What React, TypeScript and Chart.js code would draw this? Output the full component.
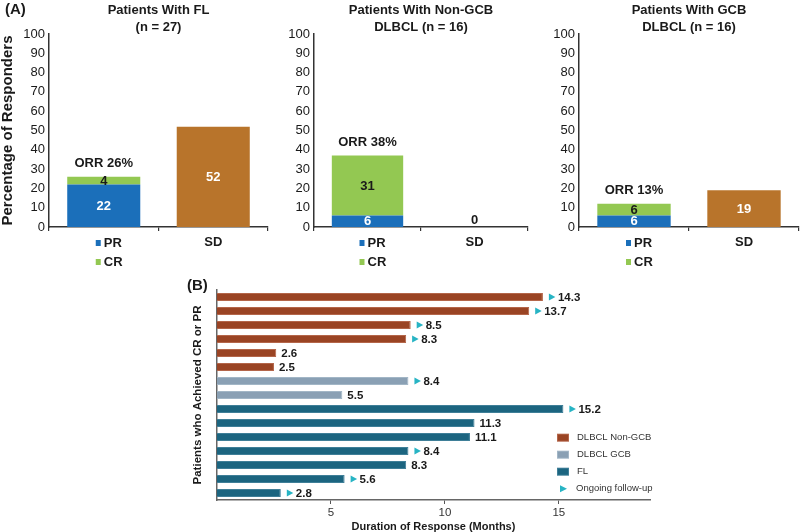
import React, { useEffect, useRef } from "react";
import { Chart, registerables } from "chart.js";

Chart.register(...registerables);

const FONT = "'Liberation Sans', Arial, Helvetica, sans-serif";
Chart.defaults.font.family = FONT;

// ---------------- Panel A data ----------------
const panelATitles: string[][] = [
  ["Patients With FL", "(n = 27)"],
  ["Patients With Non-GCB", "DLBCL (n = 16)"],
  ["Patients With GCB", "DLBCL (n = 16)"],
];
const categoriesA = ["", "SD"];
const prValues = [22, 6, 6];
const crValues = [4, 31, 6];
const sdValues = [52, 0, 19];
const orrValues = [26, 38, 13];
const legendA = ["PR", "CR"];
const yMinA = 0;
const yMaxA = 100;
const yStepA = 10;
const yTitleA = "Percentage of Responders";

// ---------------- Panel B data ----------------
const patientsB = ["1", "2", "3", "4", "5", "6", "7", "8", "9", "10", "11", "12", "13", "14", "15"];
const durationsB = [14.3, 13.7, 8.5, 8.3, 2.6, 2.5, 8.4, 5.5, 15.2, 11.3, 11.1, 8.4, 8.3, 5.6, 2.8];
const groupsB = [
  "DLBCL Non-GCB", "DLBCL Non-GCB", "DLBCL Non-GCB", "DLBCL Non-GCB", "DLBCL Non-GCB", "DLBCL Non-GCB",
  "DLBCL GCB", "DLBCL GCB",
  "FL", "FL", "FL", "FL", "FL", "FL", "FL",
];
const ongoingB = [true, true, true, true, false, false, true, false, true, false, false, true, false, true, true];
const xTicksB = [5, 10, 15];
const xMinB = 0;
const xMaxB = 19;
const legendB = ["DLBCL Non-GCB", "DLBCL GCB", "FL"];
const ongoingLabel = "Ongoing follow-up";
const xTitleB = "Duration of Response (Months)";
const yTitleB = "Patients who Achieved CR or PR";

// ---------------- Styles ----------------
const COLORS: Record<string, string> = { PR: "#1b6fba", CR: "#93c852", SD: "#b8742b" };
const groupColors: Record<string, string> = {
  "DLBCL Non-GCB": "#9a4424",
  "DLBCL GCB": "#8aa0b4",
  FL: "#1c6580",
};
const groupBorders: Record<string, string> = {
  "DLBCL Non-GCB": "#b4664a",
  "DLBCL GCB": "#a2b6c6",
  FL: "#3f7f98",
};
const ARROW = "#27b4c4";
const TEXT = "#1a1a1a";

const A_LAYOUT = [
  { left: 0, width: 270, yw: 49, pr: 2 },
  { left: 270, width: 260, yw: 44, pr: 2 },
  { left: 535, width: 265, yw: 44, pr: 1 },
];
const A_HEIGHT = 280;
const A_TOP = 34;
const A_BOTTOM = 227;

function PanelAChart({ idx }: { idx: number }) {
  const ref = useRef<HTMLCanvasElement>(null);
  const lay = A_LAYOUT[idx];
  useEffect(() => {
    const canvas = ref.current!;
    const plugin = {
      id: "panelAText" + idx,
      afterDatasetsDraw(chart: any) {
        const ctx = chart.ctx as CanvasRenderingContext2D;
        const ca = chart.chartArea;
        ctx.save();
        ctx.textAlign = "center";
        ctx.textBaseline = "middle";
        ctx.fillStyle = TEXT;
        ctx.font = `bold 13px ${FONT}`;
        const cx = (ca.left + ca.right) / 2;
        ctx.fillText(panelATitles[idx][0], cx, 10);
        ctx.fillText(panelATitles[idx][1], cx, 27);
        if (idx === 0) {
          ctx.textAlign = "left";
          ctx.font = `bold 15px ${FONT}`;
          ctx.fillText("(A)", 5, 10);
        }
        // value labels
        ctx.textAlign = "center";
        ctx.font = `bold 13px ${FONT}`;
        chart.data.datasets.forEach((ds: any, di: number) => {
          const meta = chart.getDatasetMeta(di);
          meta.data.forEach((el: any, j: number) => {
            const v = ds.data[j];
            if (v === null || v === undefined) return;
            const { x, y, base } = el.getProps(["x", "y", "base"], true);
            if (v === 0) {
              ctx.fillStyle = TEXT;
              ctx.fillText("0", x, y - 7);
            } else {
              ctx.fillStyle = di === 1 ? TEXT : "#ffffff";
              ctx.fillText(String(v), x, (y + base) / 2 + 0.5);
            }
          });
        });
        // ORR label
        const crEl = chart.getDatasetMeta(1).data[0];
        ctx.fillStyle = TEXT;
        ctx.fillText(`ORR ${orrValues[idx]}%`, crEl.x, crEl.y - 13);
        // legend under first category
        const lx = chart.scales.x.getPixelForValue(0);
        const items: [string, string, number][] = [
          [legendA[0], COLORS.PR, 243],
          [legendA[1], COLORS.CR, 262],
        ];
        ctx.textAlign = "left";
        items.forEach(([t, c, y]) => {
          ctx.fillStyle = c;
          ctx.fillRect(lx - 8, y - 3, 5, 6);
          ctx.fillStyle = TEXT;
          ctx.fillText(t, lx, y);
        });
        ctx.restore();
      },
    };
    const chart = new Chart(canvas, {
      type: "bar",
      data: {
        labels: categoriesA,
        datasets: [
          { label: "PR", data: [prValues[idx], null], backgroundColor: COLORS.PR },
          { label: "CR", data: [crValues[idx], null], backgroundColor: COLORS.CR },
          { label: "SD", data: [null, sdValues[idx]], backgroundColor: COLORS.SD },
        ],
      },
      options: {
        responsive: false,
        maintainAspectRatio: false,
        animation: false,
        layout: { padding: { left: 0, right: lay.pr, top: A_TOP, bottom: 0 } },
        datasets: { bar: { barPercentage: 0.667, categoryPercentage: 1 } },
        plugins: { legend: { display: false }, tooltip: { enabled: false }, title: { display: false } },
        scales: {
          x: {
            stacked: true,
            grid: { display: true, drawOnChartArea: false, offset: true, tickLength: 4, color: "#333", lineWidth: 1.2 },
            border: { color: "#333", width: 1.5 },
            ticks: { color: TEXT, font: { family: FONT, size: 13, weight: "bold" }, padding: 4 },
            afterFit: (s: any) => {
              s.height = A_HEIGHT - A_BOTTOM;
            },
          },
          y: {
            stacked: true,
            min: yMinA,
            max: yMaxA,
            ticks: { stepSize: yStepA, color: TEXT, font: { family: FONT, size: 13 }, padding: 4 },
            grid: { display: false, drawTicks: false },
            border: { color: "#333", width: 1.5 },
            title: {
              display: idx === 0,
              text: yTitleA,
              color: TEXT,
              font: { family: FONT, size: 15, weight: "bold", lineHeight: 1 },
              padding: { top: 0, bottom: 0 },
            },
            afterFit: (s: any) => {
              s.width = lay.yw;
            },
          },
        },
      } as any,
      plugins: [plugin],
    });
    return () => chart.destroy();
  }, [idx]);
  return (
    <canvas
      ref={ref}
      width={lay.width}
      height={A_HEIGHT}
      style={{ position: "absolute", left: lay.left, top: 0, width: lay.width, height: A_HEIGHT }}
    />
  );
}

const B_LEFT = 180;
const B_TOP = 270;
const B_W = 620;
const B_H = 262;

function PanelBChart() {
  const ref = useRef<HTMLCanvasElement>(null);
  useEffect(() => {
    const canvas = ref.current!;
    const plugin = {
      id: "panelBText",
      afterDatasetsDraw(chart: any) {
        const ctx = chart.ctx as CanvasRenderingContext2D;
        ctx.save();
        ctx.textBaseline = "middle";
        ctx.textAlign = "left";
        ctx.fillStyle = TEXT;
        ctx.font = `bold 15px ${FONT}`;
        ctx.fillText("(B)", 7, 16);
        const meta = chart.getDatasetMeta(0);
        ctx.font = `bold 11.5px ${FONT}`;
        meta.data.forEach((el: any, i: number) => {
          const { x, y } = el.getProps(["x", "y"], true);
          const label = durationsB[i].toFixed(1);
          if (ongoingB[i]) {
            const x0 = x + 6;
            ctx.fillStyle = ARROW;
            ctx.beginPath();
            ctx.moveTo(x0, y - 3.5);
            ctx.lineTo(x0 + 6.5, y);
            ctx.lineTo(x0, y + 3.5);
            ctx.closePath();
            ctx.fill();
            ctx.fillStyle = TEXT;
            ctx.fillText(label, x + 15, y + 0.5);
          } else {
            ctx.fillStyle = TEXT;
            ctx.fillText(label, x + 5, y + 0.5);
          }
        });
        // legend
        const lx = 377;
        const rows = [167.7, 184.7, 201.7, 218.7];
        ctx.font = `9.5px ${FONT}`;
        legendB.forEach((g, k) => {
          const y = rows[k];
          ctx.fillStyle = groupBorders[g];
          ctx.fillRect(lx, y - 4, 12, 8);
          ctx.fillStyle = groupColors[g];
          ctx.fillRect(lx + 1, y - 3, 10, 6);
          ctx.fillStyle = "#333";
          ctx.fillText(g, lx + 20, y);
        });
        const ty = rows[3];
        ctx.fillStyle = ARROW;
        ctx.beginPath();
        ctx.moveTo(lx + 3, ty - 3.5);
        ctx.lineTo(lx + 10, ty);
        ctx.lineTo(lx + 3, ty + 3.5);
        ctx.closePath();
        ctx.fill();
        ctx.fillStyle = "#333";
        ctx.fillText(ongoingLabel, lx + 19, ty);
        ctx.restore();
      },
    };
    const chart = new Chart(canvas, {
      type: "bar",
      data: {
        labels: patientsB,
        datasets: [
          {
            label: "Duration",
            data: durationsB,
            backgroundColor: groupsB.map((g) => groupColors[g]),
            borderColor: groupsB.map((g) => groupBorders[g]),
            borderWidth: 1,
          },
        ],
      },
      options: {
        indexAxis: "y",
        responsive: false,
        maintainAspectRatio: false,
        animation: false,
        layout: { padding: { left: 0, right: 150, top: 20, bottom: 0 } },
        datasets: { bar: { barPercentage: 0.57, categoryPercentage: 1 } },
        plugins: { legend: { display: false }, tooltip: { enabled: false }, title: { display: false } },
        scales: {
          x: {
            min: xMinB,
            max: xMaxB,
            afterBuildTicks: (s: any) => {
              s.ticks = xTicksB.map((v) => ({ value: v }));
            },
            grid: { display: true, drawOnChartArea: false, tickLength: 4, color: "#555", lineWidth: 1 },
            border: { color: "#666", width: 1.5 },
            ticks: { color: "#333", font: { family: FONT, size: 11.5 }, padding: 2 },
            title: {
              display: true,
              text: xTitleB,
              color: TEXT,
              font: { family: FONT, size: 11, weight: "bold", lineHeight: 1 },
              padding: { top: 0, bottom: 0 },
            },
            afterFit: (s: any) => {
              s.height = 32;
            },
          },
          y: {
            ticks: { display: false },
            grid: { display: false, drawTicks: false },
            border: { color: "#666", width: 1.5 },
            title: {
              display: true,
              text: yTitleB,
              color: TEXT,
              font: { family: FONT, size: 11.5, weight: "bold", lineHeight: 1 },
              padding: { top: 12, bottom: 0 },
            },
            afterFit: (s: any) => {
              s.width = 37;
            },
          },
        },
      } as any,
      plugins: [plugin],
    });
    return () => chart.destroy();
  }, []);
  return (
    <canvas
      ref={ref}
      width={B_W}
      height={B_H}
      style={{ position: "absolute", left: B_LEFT, top: B_TOP, width: B_W, height: B_H }}
    />
  );
}

export default function App() {
  return (
    <div
      style={{
        position: "fixed",
        left: 0,
        top: 0,
        width: 800,
        height: 532,
        background: "#ffffff",
        overflow: "hidden",
      }}
    >
      <PanelAChart idx={0} />
      <PanelAChart idx={1} />
      <PanelAChart idx={2} />
      <PanelBChart />
    </div>
  );
}
